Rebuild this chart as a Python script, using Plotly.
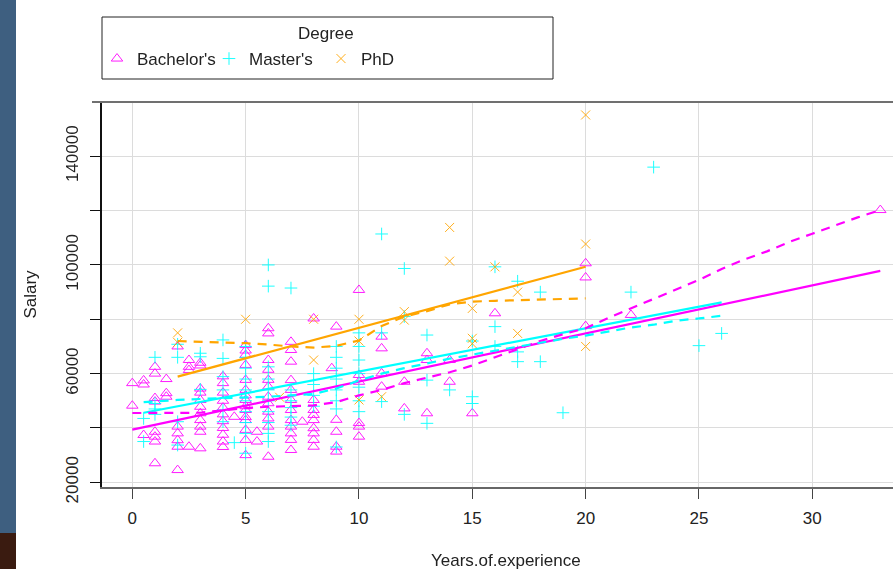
import plotly.graph_objects as go

# ---------------- data ----------------
bach_x = [0, 0, 0.5, 0.5, 1, 1, 1.5, 2, 2.5, 2.5, 2.5, 3, 3, 4, 4, 3, 3, 1.5, 1.5, 1, 1,
          0.5, 1, 1, 1, 1, 2, 2, 2, 2, 2, 2.5, 3, 3, 3, 3, 3, 3, 3, 4.5,
          4, 4, 4, 4, 4, 4, 4, 4, 4,
          5, 5, 5, 5, 5, 5, 5, 5, 5, 5, 5, 5, 5, 5, 5,
          6, 6, 6, 6, 6, 6, 6, 6, 6, 6, 6, 6,
          7, 7, 7, 7, 7, 7, 7, 7, 7, 7, 7, 7, 7.5, 5.5, 5.5,
          8, 8, 8, 8, 8, 8, 8, 8, 8, 8.8,
          9, 9, 9, 9, 9,
          10, 10, 10, 10, 10, 10,
          11, 11, 11, 11, 12, 12, 13, 13, 13, 14, 14, 15, 16, 20, 20, 20, 22, 33]
bach_y = [48200, 56500, 57500, 56000, 62500, 60000, 58000, 70000, 65000, 62500, 61300, 64000, 63000, 59000, 56500, 54500, 53000, 52800, 51500, 51000, 49700,
          37400, 38600, 36800, 35000, 27000, 24500, 40500, 38000, 35500, 33100, 33100, 32500, 50300, 47800, 45400, 42900, 40500, 38600, 44100,
          53000, 50000, 47500, 45000, 42500, 40000, 37500, 35000, 33000,
          70500, 68500, 66900, 63200, 57700, 54000, 52000, 50300, 48000, 46600, 44000, 42900, 39300, 35600, 30000,
          76700, 74800, 65000, 61400, 57700, 55200, 51500, 49100, 46000, 43500, 40500, 29400,
          71700, 68700, 64400, 57600, 54000, 50300, 46600, 42900, 40500, 38000, 35600, 31900, 42300, 38600, 35000,
          80300, 50300, 46600, 44800, 42900, 39900, 38000, 35600, 33100, 62000,
          77300, 43000, 38600, 33100, 31300,
          90800, 59500, 57000, 41800, 40500, 36800,
          73600, 69300, 60100, 55200, 57000, 47200, 67500, 65000, 45400, 65000, 57000, 45400, 82200, 100600, 95400, 77500, 81600, 120200]

mast_x = [0.5, 0.5, 1, 1, 1, 1, 2, 2, 2, 2, 3, 3, 3, 4, 4, 4, 4, 4, 4, 4.5,
          5, 5, 5, 5, 5, 5, 5, 5, 5, 5,
          6, 6, 6, 6, 6, 6, 6, 6, 6, 6,
          7, 7, 7, 7, 7, 7,
          8, 8, 8, 8,
          9, 9, 9, 9, 9, 9, 9, 9,
          10, 10, 10, 10, 10, 10, 10,
          11, 11, 11, 12, 12, 12, 13, 13, 13, 14, 15, 15, 15, 16, 16, 16,
          17, 17, 17, 18, 18, 19, 22, 23, 25, 26]
mast_y = [43500, 35000, 66000, 49000, 47000, 45000, 70800, 66000, 42300, 33700, 67500, 66200, 54200, 72400, 65600, 58900, 54000, 46600, 42300, 34600,
          70000, 66000, 62000, 58000, 54000, 50000, 46000, 42000, 38000, 30700,
          100000, 92200, 62500, 58000, 54000, 50000, 46000, 42000, 38000, 35000,
          91500, 54000, 50000, 47500, 44000, 41000,
          60000, 56000, 52000, 48000,
          70000, 66000, 62000, 58000, 54000, 50000, 47000, 33000,
          75000, 70000, 65000, 60000, 55000, 50000, 46000,
          111400, 75000, 49700, 98700, 81000, 45000, 74200, 57600, 41700, 54000, 72000, 51500, 49000, 99300, 77300, 70000,
          94000, 68000, 64400, 90000, 64400, 45600, 90000, 136000, 70300, 74800]

phd_x = [2, 2, 5, 6.5, 8, 8, 10, 10, 10, 11, 12, 12, 14, 14, 15, 15, 15, 16, 17, 17, 20, 20, 20]
phd_y = [75000, 71500, 80000, 51300, 80000, 65000, 80000, 72000, 50300, 51500, 82800, 79700, 113800, 101400,
         84000, 73000, 71000, 99300, 90000, 74800, 155200, 107700, 70000]

# linear fits (solid) and smoothers (dashed)
bach_fit_x = [0, 33]
bach_fit_y = [39400, 97800]
mast_fit_x = [0.5, 26]
mast_fit_y = [45600, 86250]
phd_fit_x = [2, 20]
phd_fit_y = [58900, 99350]

bach_smooth_x = [0, 1, 2, 3, 4, 5, 6, 7, 8, 9, 10, 11, 12, 13, 14, 15, 16, 17, 18, 19, 20,
                 21, 22, 23, 24, 25, 26, 27, 28, 29, 30, 31, 32, 33]
bach_smooth_y = [45500, 45500, 45500, 45600, 46500, 47300, 47800, 48000, 48300, 49500, 52000,
                 54000, 56500, 58500, 60500, 63000, 66000, 69000, 72000, 74500, 76700,
                 80500, 84000, 87500, 91000, 94500, 98500, 102000, 105000, 108500, 111500,
                 114500, 117500, 120200]
mast_smooth_x = [0.5, 2, 4, 6, 8, 9, 10, 11, 12, 13, 14, 15, 16, 17, 18, 19, 20, 21, 22, 23, 24, 25, 26]
mast_smooth_y = [49500, 50300, 51000, 51500, 52500, 54500, 57500, 60000, 62000, 63800, 65500, 67000,
                 68500, 69900, 71500, 72800, 74000, 75500, 77000, 78000, 79500, 80300, 81300]
phd_smooth_x = [2, 3, 4, 5, 6, 7, 8, 9, 10, 11, 12, 13, 14, 15, 16, 17, 18, 19, 20]
phd_smooth_y = [72000, 71800, 71500, 71200, 70700, 70000, 69600, 70200, 72200, 77500, 81000, 83000,
                85500, 86500, 86800, 87000, 87200, 87500, 87700]

x_ticks = [0, 5, 10, 15, 20, 25, 30]
y_ticks = [20000, 40000, 60000, 80000, 100000, 120000, 140000]
y_ticktext = ["20000", "", "60000", "", "100000", "", "140000"]

MAG, CYA, ORA = "#FF00FF", "#00FFFF", "#FFA500"
FONT = "Liberation Sans, Arial, sans-serif"
TXT = "#222222"

fig = go.Figure()

groups = [
    ("Bachelor's", bach_x, bach_y, MAG, "triangle-up-open", 10),
    ("Master's", mast_x, mast_y, CYA, "cross-thin-open", 9),
    ("PhD", phd_x, phd_y, ORA, "x-thin-open", 9),
]
for name, gx, gy, col, sym, sz in groups:
    fig.add_trace(go.Scatter(
        x=gx, y=gy, mode="markers", name=name,
        marker=dict(symbol=sym, size=sz, color=col, line=dict(width=1, color=col)),
        opacity=0.9, hoverinfo="x+y+name"))

lines = [
    (bach_fit_x, bach_fit_y, MAG, "solid"),
    (mast_fit_x, mast_fit_y, CYA, "solid"),
    (phd_fit_x, phd_fit_y, ORA, "solid"),
    (bach_smooth_x, bach_smooth_y, MAG, "9px,7px"),
    (mast_smooth_x, mast_smooth_y, CYA, "9px,7px"),
    (phd_smooth_x, phd_smooth_y, ORA, "9px,7px"),
]
for lx, ly, col, dash in lines:
    fig.add_trace(go.Scatter(x=lx, y=ly, mode="lines", showlegend=False,
                             line=dict(color=col, width=2.2, dash=dash),
                             hoverinfo="skip"))

W, H = 893, 569
L, R, T, B = 102, 0, 102, 82
pw, ph = W - L - R, H - T - B


def px(xp):
    return (xp - L) / pw


def py(yp):
    return (H - B - yp) / ph


shapes = [
    # left screenshot strip
    dict(type="rect", xref="paper", yref="paper", x0=px(0), x1=px(16), y0=py(533), y1=py(0),
         fillcolor="#3e5f80", line=dict(width=0), layer="below"),
    dict(type="rect", xref="paper", yref="paper", x0=px(0), x1=px(16), y0=py(569), y1=py(533),
         fillcolor="#3a1b10", line=dict(width=0), layer="below"),
    # top frame line
    dict(type="line", xref="paper", yref="paper", x0=px(92), x1=1, y0=1, y1=1,
         line=dict(color="#707070", width=2)),
    # legend box
    dict(type="rect", xref="paper", yref="paper", x0=px(102), x1=px(553), y0=py(79), y1=py(17),
         line=dict(color="#222222", width=1), fillcolor="rgba(0,0,0,0)"),
]

fig.update_layout(
    width=W, height=H,
    margin=dict(l=L, r=R, t=T, b=B, pad=0),
    paper_bgcolor="white", plot_bgcolor="white",
    font=dict(family=FONT, size=17, color=TXT),
    shapes=shapes,
    annotations=[
        dict(text="Degree", xref="paper", yref="paper", x=px(326), y=py(33),
             xanchor="center", yanchor="middle", showarrow=False, font=dict(size=17, color=TXT)),
        # x-axis title (the original plot region extends past the right edge, so its centre is offset)
        dict(text="Years.of.experience", xref="paper", yref="paper", x=px(506), y=py(560),
             xanchor="center", yanchor="middle", showarrow=False, font=dict(size=17, color=TXT)),
    ],
    legend=dict(orientation="h", x=px(97), xanchor="left", y=py(59), yanchor="middle",
                bgcolor="rgba(0,0,0,0)", borderwidth=0, font=dict(size=17, color=TXT),
                entrywidth=67, entrywidthmode="pixels", itemwidth=30, tracegroupgap=0),
    xaxis=dict(range=[-1.337, 33.56], tickvals=x_ticks, ticks="outside", ticklen=10,
               tickcolor="#444444", showline=True, linecolor="#666666", linewidth=1.5,
               showgrid=True, gridcolor="#dcdcdc", gridwidth=1, zeroline=False,
               ticklabelstandoff=5, tickfont=dict(size=17)),
    yaxis=dict(range=[18270, 159970], tickvals=y_ticks, ticktext=y_ticktext, tickangle=-90,
               ticks="outside", ticklen=10, tickcolor="#111111", showline=True, linecolor="#111111",
               linewidth=1.5, showgrid=True, gridcolor="#dcdcdc", gridwidth=1, zeroline=False,
               ticklabelstandoff=5,
               title=dict(text="Salary", standoff=23, font=dict(size=17)), tickfont=dict(size=17)),
)

fig.write_html("out.html", config={"displayModeBar": False},
               post_script="document.body.style.margin='0';")
